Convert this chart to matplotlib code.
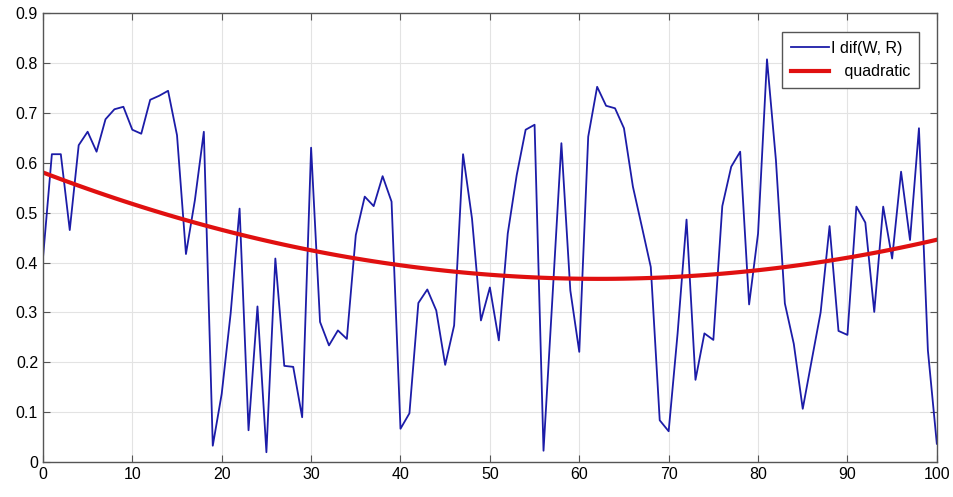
import numpy as np
import matplotlib.pyplot as plt

plt.rcParams['font.family'] = ['Liberation Sans', 'DejaVu Sans']

# values, one per integer x from 0 to 100
x = np.arange(0, 101)
dif_wr = [0.408, 0.617, 0.617, 0.465, 0.635, 0.662, 0.622, 0.687, 0.707, 0.712,
          0.666, 0.658, 0.726, 0.734, 0.744, 0.655, 0.417, 0.525, 0.662, 0.033,
          0.137, 0.298, 0.508, 0.064, 0.312, 0.020, 0.408, 0.193, 0.191, 0.090,
          0.630, 0.281, 0.234, 0.264, 0.247, 0.455, 0.532, 0.513, 0.573, 0.522,
          0.067, 0.098, 0.319, 0.346, 0.304, 0.195, 0.274, 0.617, 0.488, 0.284,
          0.350, 0.244, 0.458, 0.575, 0.666, 0.676, 0.023, 0.330, 0.639, 0.344,
          0.221, 0.652, 0.752, 0.714, 0.709, 0.669, 0.552, 0.472, 0.391, 0.084,
          0.062, 0.258, 0.486, 0.165, 0.258, 0.245, 0.513, 0.592, 0.622, 0.316,
          0.458, 0.807, 0.605, 0.318, 0.237, 0.107, 0.204, 0.300, 0.473, 0.263,
          0.255, 0.512, 0.480, 0.301, 0.512, 0.408, 0.582, 0.445, 0.669, 0.224,
          0.037]
x_ticks = list(range(0, 101, 10))
y_ticks = [0, 0.1, 0.2, 0.3, 0.4, 0.5, 0.6, 0.7, 0.8, 0.9]
y_tick_labels = ['0', '0.1', '0.2', '0.3', '0.4', '0.5', '0.6', '0.7', '0.8', '0.9']

# quadratic fit of the data
coef = np.polyfit(x, dif_wr, 2)
quad = np.polyval(coef, x)

fig = plt.figure(figsize=(9.54, 4.97), dpi=100)
ax = fig.add_axes([0.045, 0.07, 0.937, 0.904])

ax.plot(x, dif_wr, color='#1c1ca8', linewidth=1.3, label='I dif(W, R)')
ax.plot(x, quad, color='#e01010', linewidth=3, label='   quadratic')

ax.set_xlim(0, 100)
ax.set_ylim(0, 0.9)
ax.set_xticks(x_ticks)
ax.set_yticks(y_ticks)
ax.set_yticklabels(y_tick_labels)
ax.tick_params(direction='in', top=True, right=True, labelsize=11.5, length=5, color='#555555')
ax.grid(True, color='#e3e3e3', linewidth=0.8)
ax.set_axisbelow(True)
for s in ax.spines.values():
    s.set_color('#555555')
    s.set_linewidth(1.0)

leg = ax.legend(loc='upper right', bbox_to_anchor=(0.98, 0.958), borderaxespad=0,
                fontsize=11.5, fancybox=False, framealpha=1, edgecolor='#555555',
                handlelength=2.4, handletextpad=0.1, borderpad=0.55, labelspacing=0.55)
leg.get_frame().set_linewidth(1.0)

plt.savefig('out.png')
